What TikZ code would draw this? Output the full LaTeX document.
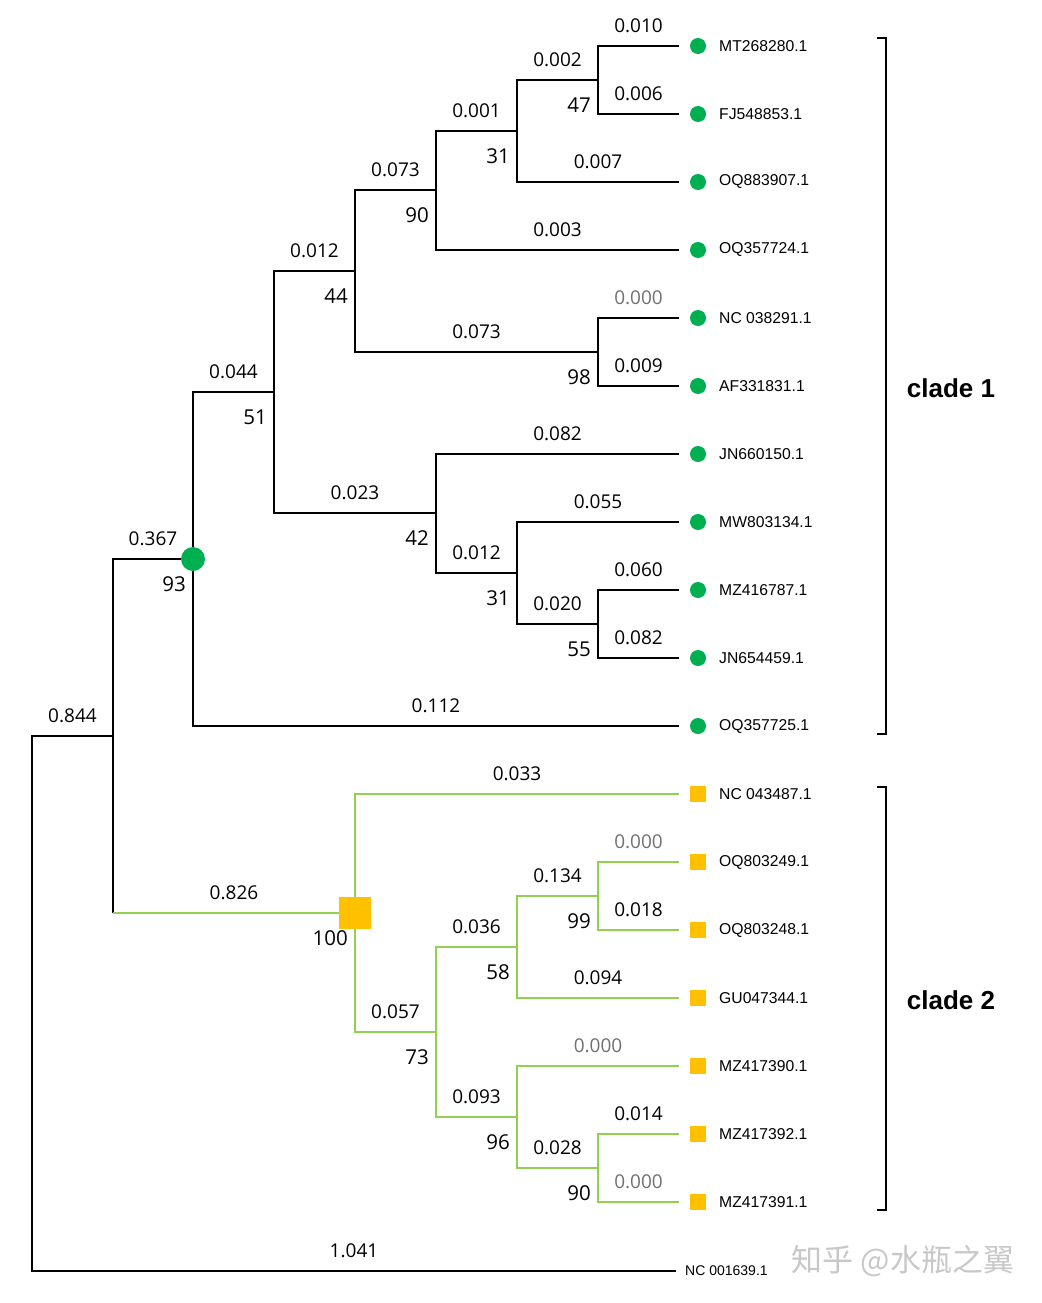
\documentclass[tikz,border=0pt]{standalone}
\usepackage{fontspec}
\setmainfont{Liberation Sans}
\newfontfamily\numfont{Open Sans}
\newfontfamily\cjkfont{Noto Sans CJK SC}
\definecolor{tgreen}{RGB}{146,208,80}
\definecolor{cgreen}{RGB}{0,176,80}
\definecolor{syellow}{RGB}{255,192,0}
\definecolor{zgray}{RGB}{112,112,112}
\definecolor{wgray}{RGB}{200,200,200}
\tikzset{
  br/.style={line width=2pt, black},
  gbr/.style={line width=2pt, tgreen},
  thinbr/.style={line width=1.2pt, black},
  bl/.style={font=\numfont\fontsize{19}{21}\selectfont, inner sep=0pt, anchor=center, yshift=20pt, text=black},
  boot/.style={font=\numfont\fontsize{20.5}{23}\selectfont, inner sep=0pt, anchor=east},
  leaf/.style={font=\fontsize{15.7}{18}\selectfont, inner sep=0pt, anchor=west},
  dot/.style={circle, fill=cgreen, minimum size=16pt, inner sep=0pt},
  sq/.style={rectangle, fill=syellow, minimum size=16pt, inner sep=0pt},
  clade/.style={font=\bfseries\fontsize{26}{30}\selectfont, inner sep=0pt},
  brk/.style={line width=1.3pt, black}
}
\newcommand\tb[4]{\draw[#4] (#1) |- (#2) node[bl,pos=0.75]{#3};}
\newcommand\bs[2]{\node[boot] (b#1) at ([shift={(-7,25)}]#1) {#2};}
\begin{document}
\begin{tikzpicture}[x=1pt,y=-1pt]
\useasboundingbox[fill=white] (0,0) rectangle (1041,1303);
% internal nodes
\coordinate (root) at (32,1004);
\coordinate (A) at (113,736);
\coordinate (C1) at (193,559);
\coordinate (n51) at (274,392);
\coordinate (n44) at (355,271);
\coordinate (n90) at (436,190);
\coordinate (n31a) at (517,131);
\coordinate (n47) at (598,80);
\coordinate (n98) at (598,352);
\coordinate (n42) at (436,513);
\coordinate (n31b) at (517,573);
\coordinate (n55) at (598,624);
\coordinate (C2) at (355,913);
\coordinate (n73) at (436,1032);
\coordinate (n58) at (517,947);
\coordinate (n99) at (598,896);
\coordinate (n96) at (517,1117);
\coordinate (n90b) at (598,1168);
\coordinate (AC2) at (113,913);
% leaf ends
\foreach \i/\y in {1/46,2/114,3/182,4/250,5/318,6/386,7/454,8/522,9/590,10/658,11/726,12/794,13/862,14/930,15/998,16/1066,17/1134,18/1202}
  \coordinate (L\i) at (679,\y);
\coordinate (OG) at (676,1271);

% root
\tb{root}{A}{0.844}{thinbr}
\tb{root}{OG}{1.041}{thinbr}
% clade 1
\tb{A}{C1}{0.367}{br}
\tb{C1}{n51}{0.044}{br}
\tb{C1}{L11}{0.112}{br}
\tb{n51}{n44}{0.012}{br}
\tb{n51}{n42}{0.023}{br}
\tb{n44}{n90}{0.073}{br}
\tb{n44}{n98}{0.073}{br}
\tb{n90}{n31a}{0.001}{br}
\tb{n90}{L4}{0.003}{br}
\tb{n31a}{n47}{0.002}{br}
\tb{n31a}{L3}{0.007}{br}
\tb{n47}{L1}{0.010}{br}
\tb{n47}{L2}{0.006}{br}
\tb{n98}{L5}{\textcolor{zgray}{0.000}}{br}
\tb{n98}{L6}{0.009}{br}
\tb{n42}{L7}{0.082}{br}
\tb{n42}{n31b}{0.012}{br}
\tb{n31b}{L8}{0.055}{br}
\tb{n31b}{n55}{0.020}{br}
\tb{n55}{L9}{0.060}{br}
\tb{n55}{L10}{0.082}{br}
% clade 2
\draw[br] (A) -- (AC2);
\draw[gbr] (AC2) -- (C2) node[bl,midway]{0.826};
\tb{C2}{L12}{0.033}{gbr}
\tb{C2}{n73}{0.057}{gbr}
\tb{n73}{n58}{0.036}{gbr}
\tb{n73}{n96}{0.093}{gbr}
\tb{n58}{n99}{0.134}{gbr}
\tb{n58}{L15}{0.094}{gbr}
\tb{n99}{L13}{\textcolor{zgray}{0.000}}{gbr}
\tb{n99}{L14}{0.018}{gbr}
\tb{n96}{L16}{\textcolor{zgray}{0.000}}{gbr}
\tb{n96}{n90b}{0.028}{gbr}
\tb{n90b}{L17}{0.014}{gbr}
\tb{n90b}{L18}{\textcolor{zgray}{0.000}}{gbr}

% clade markers
\node[circle, fill=cgreen, minimum size=24pt, inner sep=0pt] (mC1) at (C1) {};
\node[rectangle, fill=syellow, minimum size=32pt, inner sep=0pt] (mC2) at (C2) {};

% bootstrap
\bs{C1}{93}
\bs{n51}{51}
\bs{n44}{44}
\bs{n90}{90}
\bs{n31a}{31}
\bs{n47}{47}
\bs{n98}{98}
\bs{n42}{42}
\bs{n31b}{31}
\bs{n55}{55}
\bs{C2}{100}
\bs{n73}{73}
\bs{n58}{58}
\bs{n99}{99}
\bs{n96}{96}
\bs{n90b}{90}

% leaf markers and labels
\foreach \i/\t in {1/MT268280.1,2/FJ548853.1,3/OQ883907.1,4/OQ357724.1,5/NC 038291.1,6/AF331831.1,7/JN660150.1,8/MW803134.1,9/MZ416787.1,10/JN654459.1,11/OQ357725.1}{
  \node[dot] (m\i) at ([xshift=19pt]L\i) {};
  \node[leaf] (t\i) at ([xshift=40pt]L\i) {\t};
}
\foreach \i/\t in {12/NC 043487.1,13/OQ803249.1,14/OQ803248.1,15/GU047344.1,16/MZ417390.1,17/MZ417392.1,18/MZ417391.1}{
  \node[sq] (m\i) at ([xshift=19pt]L\i) {};
  \node[leaf] (t\i) at ([xshift=40pt]L\i) {\t};
}
\node[leaf, font=\fontsize{14}{16}\selectfont] (tOG) at ([xshift=9pt]OG) {NC 001639.1};

% clade brackets
\coordinate (k1a) at (877,38);
\coordinate (k1b) at (886,38);
\coordinate (k1c) at (886,734);
\coordinate (k1d) at (877,734);
\draw[brk] (k1a) -- (k1b) -- (k1c) -- (k1d);
\coordinate (k2a) at (877,787);
\coordinate (k2b) at (886,787);
\coordinate (k2c) at (886,1210);
\coordinate (k2d) at (877,1210);
\draw[brk] (k2a) -- (k2b) -- (k2c) -- (k2d);
\node[clade] (cl1) at (951,388) {clade 1};
\node[clade] (cl2) at (951,1000) {clade 2};

% watermark
\node[font=\cjkfont\fontsize{31}{34}\selectfont, text=wgray, inner sep=0pt] (wm) at (903,1261) {知乎 @水瓶之翼};
\end{tikzpicture}
\end{document}
